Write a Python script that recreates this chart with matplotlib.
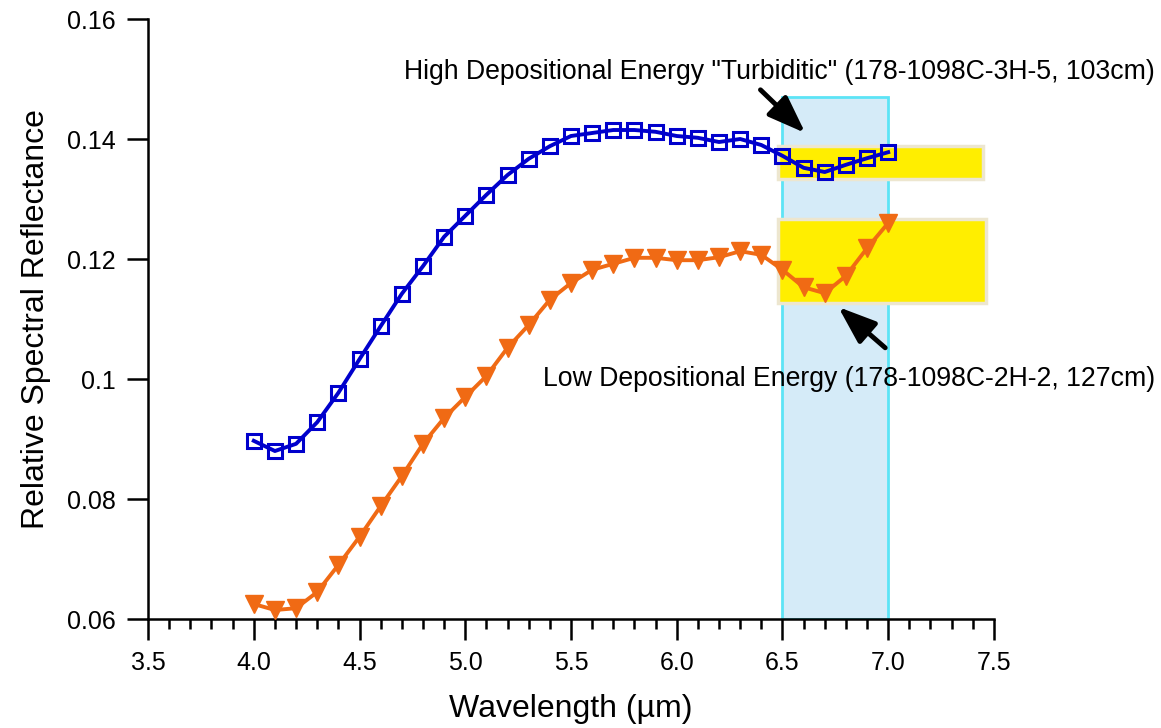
import matplotlib
matplotlib.use("Agg")
import matplotlib.pyplot as plt
from matplotlib.patches import Rectangle
from matplotlib.ticker import MultipleLocator, FixedLocator, FixedFormatter

plt.rcParams["font.family"] = ["Liberation Sans", "DejaVu Sans"]

# wavelength samples (um)
wavelength = [4.0, 4.1, 4.2, 4.3, 4.4, 4.5, 4.6, 4.7, 4.8, 4.9,
              5.0, 5.1, 5.2, 5.3, 5.4, 5.5, 5.6, 5.7, 5.8, 5.9,
              6.0, 6.1, 6.2, 6.3, 6.4, 6.5, 6.6, 6.7, 6.8, 6.9, 7.0]

# High depositional energy "turbiditic" (178-1098C-3H-5, 103cm)
high_energy = [0.0897, 0.0880, 0.0892, 0.0928, 0.0977, 0.1033, 0.1088, 0.1142, 0.1188, 0.1237,
               0.1272, 0.1307, 0.1340, 0.1367, 0.1388, 0.1405, 0.1410, 0.1415, 0.1415, 0.1412,
               0.1405, 0.1402, 0.1395, 0.1400, 0.1390, 0.1372, 0.1352, 0.1345, 0.1357, 0.1368, 0.1378]

# Low depositional energy (178-1098C-2H-2, 127cm)
low_energy = [0.0625, 0.0615, 0.0618, 0.0645, 0.0690, 0.0737, 0.0788, 0.0838, 0.0892, 0.0935,
              0.0970, 0.1005, 0.1052, 0.1090, 0.1132, 0.1160, 0.1182, 0.1192, 0.1202, 0.1202,
              0.1198, 0.1198, 0.1203, 0.1213, 0.1207, 0.1182, 0.1153, 0.1143, 0.1172, 0.1218, 0.1260]

y_ticks = [0.06, 0.08, 0.10, 0.12, 0.14, 0.16]
y_tick_labels = ["0.06", "0.08", "0.1", "0.12", "0.14", "0.16"]

fig = plt.figure(figsize=(11.61, 7.28), dpi=100)
ax = fig.add_axes([0.1275, 0.1497, 0.7286, 0.8242])

# highlighted window 6.5 - 7.0 um
ax.add_patch(Rectangle((6.5, 0.06), 0.5, 0.087, facecolor="#d5ebf8",
                       edgecolor="#5ce4f6", lw=2, zorder=1))
# yellow boxes behind each absorption feature
ax.add_patch(Rectangle((6.48, 0.1333), 0.968, 0.0055, facecolor="#ffee00",
                       edgecolor="#ede6cf", lw=2.5, zorder=2))
ax.add_patch(Rectangle((6.48, 0.1127), 0.982, 0.014, facecolor="#ffee00",
                       edgecolor="#ede6cf", lw=2.5, zorder=2))

ax.plot(wavelength, high_energy, color="#0000cc", lw=2.8, marker="s", ms=10.5,
        mfc="none", mec="#0000cc", mew=2.2, zorder=4)
ax.plot(wavelength, low_energy, color="#f06a14", lw=2.8, marker="v", ms=13,
        mfc="#f06a14", mec="#f06a14", zorder=3)

arrow_style = dict(arrowstyle="-|>,head_length=2.3,head_width=0.85",
                   color="black", lw=3.5, shrinkA=0, shrinkB=0)
ax.annotate("", xy=(6.608, 0.1410), xytext=(6.396, 0.1482),
            arrowprops=arrow_style, zorder=5)
ax.annotate("", xy=(6.764, 0.1120), xytext=(6.986, 0.1052),
            arrowprops=arrow_style, zorder=5)

ax.text(8.26, 0.1512, 'High Depositional Energy "Turbiditic" (178-1098C-3H-5, 103cm)',
        ha="right", va="center", fontsize=19.2)
ax.text(8.26, 0.1000, "Low Depositional Energy (178-1098C-2H-2, 127cm)",
        ha="right", va="center", fontsize=19.2)

ax.set_xlim(3.5, 7.5)
ax.set_ylim(0.06, 0.16)
ax.xaxis.set_major_locator(MultipleLocator(0.5))
ax.xaxis.set_minor_locator(MultipleLocator(0.1))
ax.xaxis.set_major_formatter(matplotlib.ticker.FormatStrFormatter("%.1f"))
ax.yaxis.set_major_locator(FixedLocator(y_ticks))
ax.yaxis.set_major_formatter(FixedFormatter(y_tick_labels))

for side in ["top", "right"]:
    ax.spines[side].set_visible(False)
for side in ["left", "bottom"]:
    ax.spines[side].set_linewidth(1.8)

ax.tick_params(axis="both", which="major", direction="out", length=15,
               width=1.8, labelsize=18, pad=8)
ax.tick_params(axis="x", which="minor", direction="out", length=7.5, width=1.8)

ax.set_xlabel("Wavelength (\u00b5m)", fontsize=23, labelpad=14)
ax.set_ylabel("Relative Spectral Reflectance", fontsize=23, labelpad=12)

fig.savefig("out.png", dpi=100)
